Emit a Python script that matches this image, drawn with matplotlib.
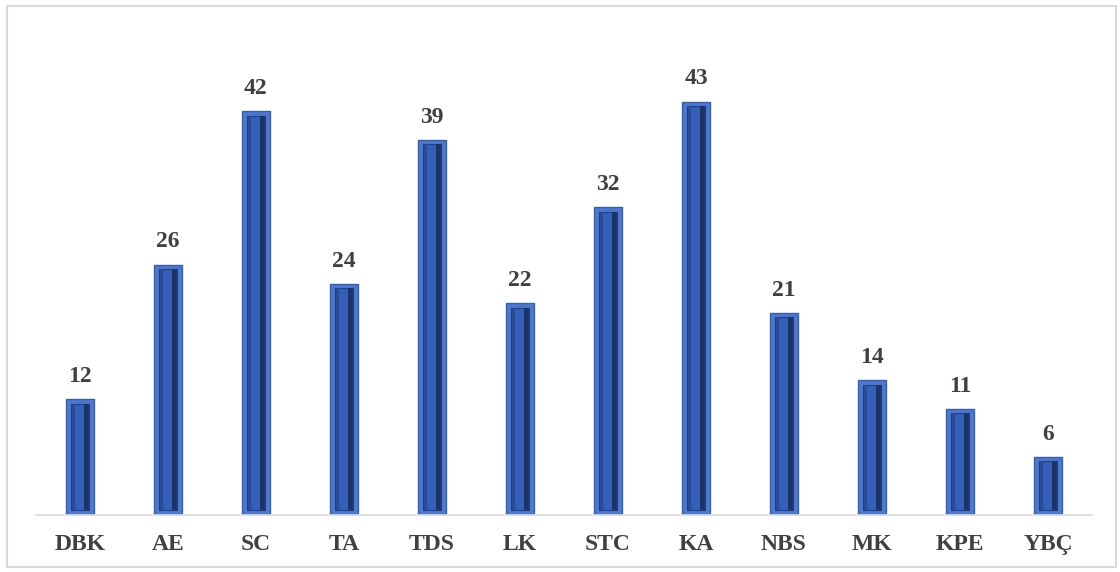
import numpy as np
import matplotlib.pyplot as plt
from matplotlib.patches import Rectangle

categories = ['DBK', 'AE', 'SC', 'TA', 'TDS', 'LK', 'STC', 'KA', 'NBS', 'MK', 'KPE', 'YBÇ']
counts = [12, 26, 42, 24, 39, 22, 32, 43, 21, 14, 11, 6]

plt.rcParams['font.family'] = ['Liberation Serif', 'DejaVu Serif']

fig = plt.figure(figsize=(11.2, 5.72), dpi=100)
ax = fig.add_axes([0.032, 0.1, 0.943, 0.84])

x = np.arange(len(categories))
counts_arr = np.array(counts, dtype=float)
bev = 0.45  # bevel depth in data units (vertical)

# outer bevel frame
ax.bar(x, counts_arr, width=0.32, color='#4A78D2', edgecolor='#3A5EA8', linewidth=1.0, zorder=2)
# inner face
ax.bar(x, counts_arr - 2 * bev, bottom=bev, width=0.21, color='#3660B8',
       edgecolor='#233F80', linewidth=0.8, zorder=3)
# dark shading on the right side of the face
ax.bar(x + 0.075, counts_arr - 2 * bev, bottom=bev, width=0.05, color='#1E3466',
       linewidth=0, zorder=4)
# light highlight on the left side of the face
ax.bar(x - 0.075, counts_arr - 2 * bev, bottom=bev, width=0.03, color='#2A4C94',
       linewidth=0, zorder=4)

for xi, c in zip(x, counts):
    ax.text(xi, c + 1.3, str(c), ha='center', va='bottom', fontsize=17,
            fontweight='bold', color='#404040')

ax.set_xlim(-0.5, len(categories) - 0.5)
ax.set_ylim(0, 50)
ax.set_xticks(x)
ax.set_xticklabels(categories, fontsize=17, fontweight='bold', color='#404040')
ax.tick_params(axis='x', length=0, pad=14)
ax.set_yticks([])
for side in ['top', 'right', 'left']:
    ax.spines[side].set_visible(False)
ax.spines['bottom'].set_color('#D9D9D9')
ax.spines['bottom'].set_linewidth(1.2)

# light frame around the whole chart
fig.patches.append(Rectangle((0.006, 0.008), 0.99, 0.982, transform=fig.transFigure,
                             fill=False, edgecolor='#D9D9D9', linewidth=1.5))

fig.savefig('out.png', dpi=100)
